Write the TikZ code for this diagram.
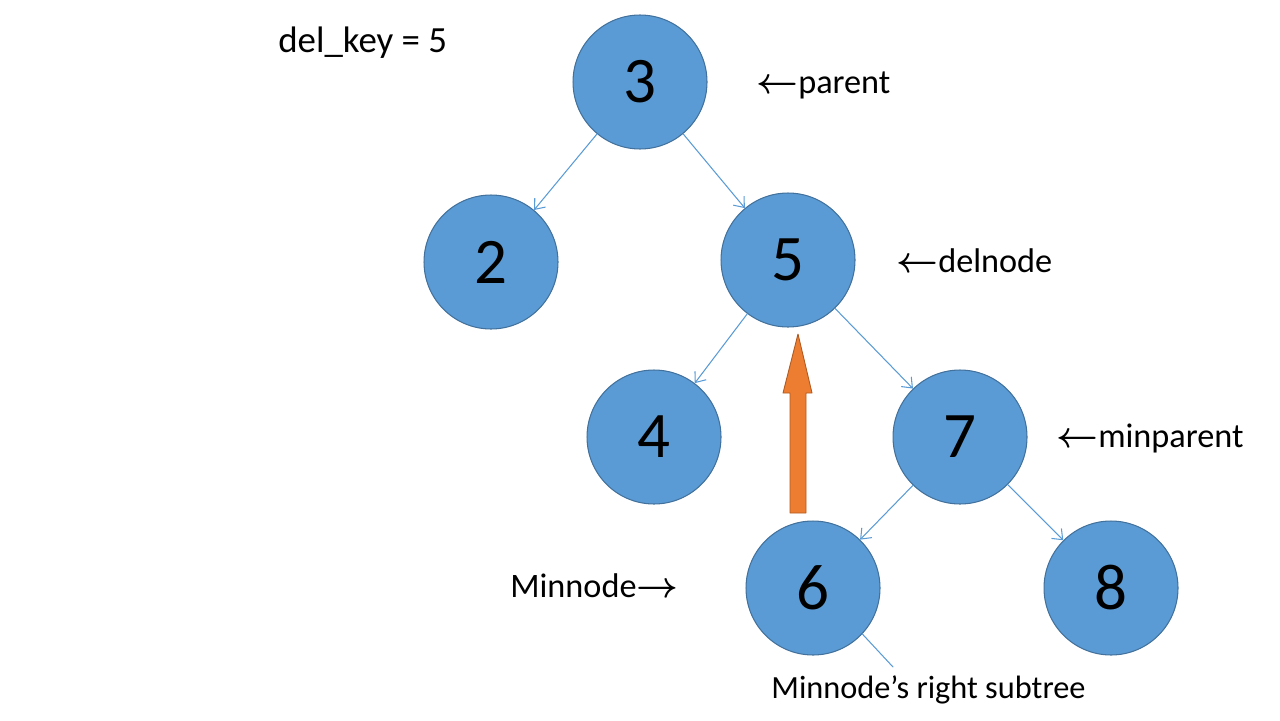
\documentclass[tikz,border=0pt]{standalone}
\usepackage{amsmath}
\usepackage{fontspec}
\setmainfont{Carlito}
\usetikzlibrary{arrows.meta}

\begin{document}
\begin{tikzpicture}[line cap=round,line join=round,x=0.02cm,y=-0.02cm,
		bstnode/.style={circle,draw=nodeedge,fill=nodeblue,line width=0.6pt,minimum size=2.68cm,inner sep=0pt,font=\fontsize{37}{40}\selectfont},
		link/.style={draw=nodeblue,line width=0.6pt,-{Straight Barb[length=5pt,width=8pt]}},
		lbl/.style={inner sep=0pt,font=\fontsize{19.5}{23}\selectfont}]
	\definecolor{nodeblue}{RGB}{91,155,213}
	\definecolor{nodeedge}{RGB}{65,113,156}
	\definecolor{uporange}{RGB}{237,125,49}
	\definecolor{uporangeedge}{RGB}{174,90,33}
	\useasboundingbox (0,0) rectangle (1280,720);
	% tree
	\node[bstnode] (n3) at (640,82) {3};
	\node[bstnode] (n2) at (491,262) {2};
	\node[bstnode] (n5) at (788,260) {5};
	\node[bstnode] (n4) at (654,437) {4};
	\node[bstnode] (n7) at (960,437) {7};
	\node[bstnode] (n6) at (813,588) {6};
	\node[bstnode] (n8) at (1111,588) {8};
	\coordinate (sub) at (893,667);
	\draw[link] (n3) -- (n2);
	\draw[link] (n3) -- (n5);
	\draw[link] (n5) -- (n4);
	\draw[link] (n5) -- (n7);
	\draw[link] (n7) -- (n6);
	\draw[link] (n7) -- (n8);
	\draw[draw=nodeblue,line width=0.6pt] (n6.-43) -- (sub);
	% orange arrow
	\draw[fill=uporange,draw=uporangeedge,line width=0.5pt] (790,513) -- (806,513) -- (806,393) -- (812,393) -- (798,334) -- (783,393) -- (790,393) -- cycle;
	% labels
	\node[lbl,anchor=base west,font=\fontsize{21}{25}\selectfont] (key) at (278,52) {del\_key = 5};
	\node[lbl,anchor=base west] (parentlbl) at (756,93) {$\boldsymbol{\leftarrow}$parent};
	\node[lbl,anchor=base west] (dellbl) at (896,272) {$\boldsymbol{\leftarrow}$delnode};
	\node[lbl,anchor=base west] (minparlbl) at (1056,447) {$\boldsymbol{\leftarrow}$minparent};
	\node[lbl,anchor=base west] (minlbl) at (510,597) {Minnode$\boldsymbol{\rightarrow}$};
	\node[lbl,anchor=base west,font=\fontsize{18.4}{22}\selectfont] (sublbl) at (771,698) {Minnode’s right subtree};
\end{tikzpicture}
\end{document}
